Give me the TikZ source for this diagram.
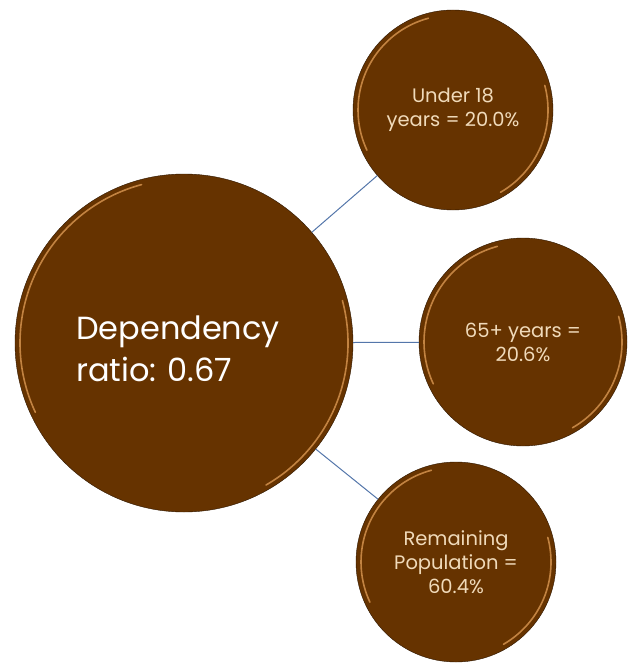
\documentclass[tikz,border=0pt]{standalone}
\usepackage{fontspec}
\setmainfont{Poppins}
\usepackage{tikz}
\usetikzlibrary{positioning}
\definecolor{brown}{RGB}{102,51,0}
\definecolor{rim}{RGB}{45,22,0}
\definecolor{shine}{RGB}{226,158,88}
\definecolor{tan}{RGB}{240,218,186}
\definecolor{steel}{RGB}{84,118,170}
\tikzstyle{Bigstate}=[shape=circle,draw=rim,fill=brown,minimum size=338pt,inner sep=0pt,text=white,font=\fontsize{32}{40}\selectfont,align=left]
\tikzstyle{Smallstate}=[shape=circle,draw=rim,fill=brown,minimum size=200pt,inner sep=0pt,text=tan,font=\fontsize{19.5}{24}\selectfont,align=center]
\tikzstyle{linkedge}=[-,draw=steel,line width=1pt]
\tikzstyle{shineedge}=[draw=shine,line width=1.6pt,line cap=round,opacity=0.75]

\begin{document}
\begin{tikzpicture}[x=1pt,y=1pt]
 \useasboundingbox (0,0) rectangle (629,-663);

 \node[Bigstate] (ratio) at (184,-343) {\hspace*{-12pt}\raisebox{-38pt}[0pt][0pt]{\shortstack[l]{Dependency\\[6pt]ratio: 0.67}}};

 \node[Smallstate] (under) at (453,-110) {Under 18\\years = 20.0\%};
 \node[Smallstate,minimum size=208pt] (elder) at (523,-342) {65+ years =\\20.6\%};
 \node[Smallstate] (rest) at (456,-562) {Remaining\\Population =\\60.4\%};

 % bevel highlights
 \draw[shineedge] ([shift={(105:164)}]ratio.center) arc[start angle=105,end angle=205,radius=164];
 \draw[shineedge] ([shift={(-60:164)}]ratio.center) arc[start angle=-60,end angle=15,radius=164];
 \draw[shineedge] ([shift={(105:95)}]under.center) arc[start angle=105,end angle=205,radius=95];
 \draw[shineedge] ([shift={(-60:95)}]under.center) arc[start angle=-60,end angle=15,radius=95];
 \draw[shineedge] ([shift={(105:99)}]elder.center) arc[start angle=105,end angle=205,radius=99];
 \draw[shineedge] ([shift={(-60:99)}]elder.center) arc[start angle=-60,end angle=15,radius=99];
 \draw[shineedge] ([shift={(105:95)}]rest.center) arc[start angle=105,end angle=205,radius=95];
 \draw[shineedge] ([shift={(-60:95)}]rest.center) arc[start angle=-60,end angle=15,radius=95];

\path
(ratio) edge [linkedge] (under)
(ratio) edge [linkedge] (elder)
(ratio) edge [linkedge] (rest);

\end{tikzpicture}
\end{document}
